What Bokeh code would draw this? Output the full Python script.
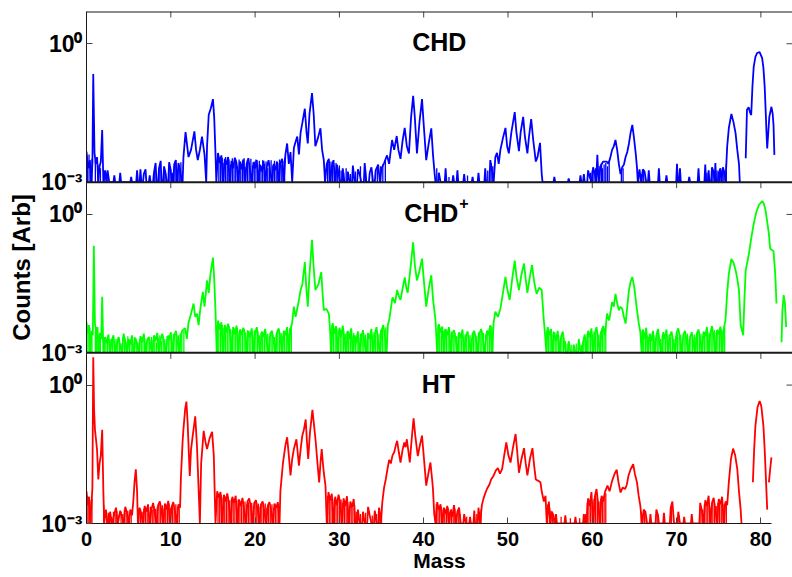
import math
import numpy as np
from bokeh.plotting import figure
from bokeh.models import (ColumnDataSource, FixedTicker, Label, Range1d, Span, LogScale,
                          CustomJSTickFormatter)
from bokeh.embed import file_html
from bokeh.resources import INLINE

NAN = float("nan")

# ---------------- data ----------------
panel_names = ["CHD", "CHD", "HT"]
panel_charges = ["", "+", ""]
panel_colors = ["#0000FF", "#00FF00", "#FF0000"]
mass_ticks = [0, 10, 20, 30, 40, 50, 60, 70, 80]
y_tick_values = [1e-3, 1.0]
y_tick_powers = ["-3", "0"]

# spectra: (mass, counts in units of 1e-3 arb.); values < 1 lie below the axis floor
chd_points = [
    (0.0, 4.6), (0.2, 2.0), (0.4, 3.0), (0.55, 0.3), (0.7, 2.5), (0.8, 220), (0.95, 4.3), (1.1, 2.5), (1.25, 3.5),
    (1.4, 0.3), (1.55, 2.2), (1.7, 2.8), (1.86, 13.5), (2.0, 0.3), (2.2, 1.8), (2.35, 0.3), (2.5, 1.8), (2.7, 0.3),
    (3.2, 0.3), (3.3, 1.4), (3.4, 0.3), (3.9, 0.3), (4.0, 1.6), (4.1, 0.3), (5.2, 0.3), (5.3, 1.3), (5.4, 0.3),
    (5.9, 0.3), (6.0, 1.8), (6.1, 0.3), (6.3, 0.3), (6.4, 1.9), (6.5, 0.3), (6.7, 0.3), (6.8, 1.5), (7.0, 1.9),
    (7.1, 0.3), (7.4, 0.3), (7.5, 1.4), (7.6, 0.3), (7.9, 0.3), (8.0, 1.6), (8.2, 2.6), (8.3, 0.3), (8.5, 0.3),
    (8.6, 2.0), (8.8, 2.9), (8.9, 0.3), (9.1, 0.3), (9.2, 2.2), (9.4, 1.5), (9.5, 0.3), (9.7, 0.3), (9.8, 2.7),
    (10.0, 1.8), (10.1, 0.3), (10.3, 0.3), (10.4, 2.4), (10.6, 3.0), (10.7, 0.3), (10.8, 0.3), (10.9, 2.6),
    (11.1, 1.9), (11.3, 0.3), (11.4, 0.3), (11.5, 3.5),
    (11.75, 12.2), (12.1, 3.5), (12.4, 5.0), (12.8, 12.6), (13.0, 5.0), (13.2, 3.0), (13.45, 5.0), (13.7, 9.7),
    (14.0, 4.0), (14.2, 0.3), (14.3, 6.0), (14.5, 29), (14.75, 40), (15.0, 63), (15.15, 25), (15.3, 4.3), (15.4, 0.3),
    (15.6, 4.3), (15.8, 2.6), (16.0, 3.8), (16.2, 0.3), (16.4, 3.2), (16.6, 2.4), (16.8, 3.5), (17.0, 0.3),
    (17.2, 2.9), (17.4, 2.0), (17.6, 3.4), (17.8, 2.6), (18.0, 0.3), (18.2, 2.8), (18.4, 1.9), (18.6, 3.1),
    (18.8, 0.3), (19.0, 2.5), (19.2, 3.3), (19.4, 1.8), (19.6, 0.3), (19.8, 2.7), (20.0, 2.0), (20.2, 3.0),
    (20.4, 0.3), (20.6, 2.4), (20.8, 1.7), (21.0, 2.9), (21.2, 0.3), (21.4, 2.2), (21.6, 3.0), (21.8, 1.6),
    (22.0, 0.3), (22.2, 2.5), (22.4, 1.8), (22.6, 2.8), (22.8, 0.3), (23.0, 2.6), (23.2, 3.2), (23.4, 0.3),
    (23.6, 4.0), (23.8, 6.9), (24.0, 2.5), (24.2, 4.5), (24.4, 0.3), (24.6, 5.5), (24.8, 7.5), (25.0, 9.7),
    (25.2, 4.0), (25.4, 12), (25.6, 19), (25.9, 39), (26.1, 12), (26.25, 6.9), (26.45, 30), (26.75, 85),
    (26.95, 30), (27.15, 6.0), (27.45, 9.0), (27.75, 14.7), (27.95, 5.0), (28.15, 3.0), (28.3, 0.3),
    (28.5, 2.5), (28.75, 3.2), (28.9, 0.3), (29.1, 2.2), (29.3, 3.0), (29.5, 0.3), (29.7, 2.4), (29.9, 1.5),
    (30.1, 0.3), (30.3, 0.3), (30.4, 2.0), (30.6, 0.3), (30.9, 0.3), (31.0, 1.7), (31.2, 0.3), (31.5, 0.3),
    (31.6, 2.3), (31.8, 0.3), (32.1, 0.3), (32.2, 1.9), (32.4, 1.5), (32.6, 0.3), (32.9, 0.3), (33.0, 2.6),
    (33.2, 0.3), (33.5, 0.3), (33.6, 1.6), (33.8, 2.1), (34.0, 0.3), (34.2, 0.3), (34.3, 1.8), (34.6, 2.4),
    (34.8, 0.3), (35.0, 2.0), (35.3, 2.6),
    (35.65, 3.8), (35.9, 2.5), (36.1, 5.0), (36.25, 8.2), (36.5, 5.0), (36.8, 10), (37.0, 5.0), (37.25, 3.2),
    (37.5, 8.0), (37.75, 15), (38.0, 6.0), (38.25, 4.2), (38.5, 25), (38.75, 74), (38.95, 25), (39.2, 4.2),
    (39.5, 20), (39.8, 63), (40.0, 18), (40.3, 3.0), (40.6, 7.0), (40.9, 14.7), (41.1, 4.0), (41.3, 1.5), (41.4, 0.3),
    (41.7, 0.3), (41.8, 1.6), (42.0, 0.3), (42.5, 0.3), (42.6, 2.0), (42.7, 0.3), (43.4, 0.3), (43.5, 1.4),
    (43.6, 0.3), (43.9, 0.3), (44.0, 1.8), (44.1, 0.3), (44.7, 0.3), (44.8, 1.5), (44.9, 0.3), (45.7, 0.3),
    (45.8, 1.3), (45.9, 0.3), (46.4, 0.3), (46.5, 1.6), (46.6, 0.3), (47.2, 0.3), (47.3, 2.0), (47.4, 0.3),
    (47.8, 0.3), (47.9, 3.0), (48.1, 1.8), (48.3, 0.3),
    (48.5, 3.5), (48.7, 4.3), (48.9, 2.5), (49.1, 5.0), (49.4, 9.0), (49.7, 15), (49.9, 6.0), (50.1, 4.2),
    (50.4, 12), (50.8, 33), (51.0, 12), (51.3, 4.7), (51.5, 12), (51.8, 26), (52.0, 10), (52.3, 4.2),
    (52.5, 10), (52.75, 23.4), (53.0, 8.0), (53.3, 2.8), (53.5, 3.5), (53.8, 7.1), (54.0, 1.5), (54.1, 0.3),
    (55.4, 0.3), (55.5, 1.3), (55.6, 0.3), (57.1, 0.3), (57.2, 1.2), (57.3, 0.3), (58.5, 0.3), (58.6, 1.4),
    (58.7, 0.3), (58.9, 0.3), (59.0, 1.5), (59.1, 0.3), (59.4, 0.3), (59.5, 1.8), (59.7, 1.3), (59.9, 0.3),
    (60.1, 2.1), (60.3, 1.5), (60.45, 0.3), (60.6, 3.9), (60.75, 0.3), (61.0, 2.3), (61.3, 2.8), (61.5, 2.8),
    (61.7, 2.8), (61.9, 2.5), (62.1, 3.2),
    (62.35, 5.0), (62.55, 6.0), (62.75, 8.2), (62.95, 5.0), (63.15, 2.5), (63.35, 1.5), (63.55, 2.1),
    (63.75, 2.4), (63.95, 3.5), (64.15, 4.5), (64.35, 6.9), (64.55, 12), (64.75, 17.4), (64.95, 9.0),
    (65.15, 4.2), (65.3, 2.1), (65.4, 0.3),
    (65.6, 1.9), (65.8, 0.3), (66.0, 1.9), (66.2, 1.7), (66.4, 0.3), (66.6, 0.3), (66.7, 1.8), (66.8, 0.3),
    (67.8, 0.3), (67.9, 2.0), (68.0, 0.3), (68.7, 0.3), (68.8, 1.4), (68.9, 0.3), (69.95, 0.3), (70.05, 2.5),
    (70.15, 0.3), (70.3, 0.3), (70.4, 2.0), (70.5, 0.3), (71.4, 0.3), (71.5, 1.3), (71.6, 0.3), (72.5, 0.3),
    (72.6, 2.0), (72.7, 0.3), (73.3, 0.3), (73.4, 2.4), (73.5, 0.3), (73.7, 0.3), (73.8, 1.8), (73.9, 0.3),
    (74.1, 0.3), (74.2, 2.1), (74.4, 1.6), (74.5, 0.3), (74.6, 2.6), (74.7, 0.3), (74.9, 0.3), (75.0, 1.6),
    (75.2, 2.0), (75.3, 0.3), (75.5, 2.1), (75.7, 1.5), (75.8, 0.3),
    (76.0, 5.9), (76.2, 15), (76.5, 30), (76.75, 20), (77.0, 11.4), (77.2, 5.0), (77.4, 2.5), (77.5, 0.3), (77.8, NAN),
    (78.2, 3.3), (78.35, 37), (78.55, 42), (78.7, 33), (78.85, 28.5), (79.0, 120), (79.15, 320), (79.35, 520),
    (79.55, 630), (79.85, 660), (80.15, 490), (80.3, 300), (80.45, 118), (80.6, 25), (80.65, 13.5), (80.75, 5.4),
    (81.0, 26), (81.25, 43), (81.4, 30), (81.5, 17), (81.6, 3.9),
]

# fine noise spikes between the sampled points (mass, counts in units of 1e-3)
chd_spikes = [
    (0.1, 3.6), (0.3, 4.0), (0.5, 2.2), (0.65, 3.2), (1.05, 3.0), (1.35, 2.4), (1.65, 2.0), (2.1, 1.6), (2.45, 1.4),
    (8.1, 2.0), (8.7, 2.4), (9.3, 1.8), (9.9, 2.2), (10.2, 1.6), (10.5, 2.8), (11.0, 2.3), (11.2, 2.7),
    (15.7, 3.6), (15.9, 3.0), (16.1, 3.4), (16.3, 2.6), (16.5, 3.5), (16.7, 2.8), (16.9, 3.1), (17.1, 2.4),
    (17.3, 3.3), (17.5, 2.7), (17.7, 3.0), (17.9, 2.2), (18.1, 3.1), (18.3, 2.5), (18.5, 2.9), (18.7, 3.3),
    (18.9, 2.1), (19.1, 3.0), (19.3, 2.6), (19.5, 3.2), (19.7, 2.3), (19.9, 2.8), (20.1, 3.1), (20.3, 2.4),
    (20.5, 2.9), (20.7, 2.2), (20.9, 3.0), (21.1, 2.5), (21.3, 2.8), (21.5, 2.0), (21.7, 2.6), (21.9, 3.0),
    (22.1, 2.3), (22.3, 2.9), (22.5, 2.1), (22.7, 2.6), (22.9, 3.1), (23.1, 2.4), (23.3, 2.9), (23.5, 3.4),
    (28.6, 3.0), (28.8, 2.4), (29.0, 2.8), (29.2, 2.5), (29.4, 2.1), (29.6, 2.6), (29.8, 2.0), (30.0, 2.3),
    (30.2, 1.8), (30.5, 1.6), (30.8, 2.0), (31.3, 1.5), (31.9, 1.7), (32.5, 2.2), (33.1, 1.8), (33.9, 1.6),
    (34.5, 2.0), (34.9, 2.2), (35.15, 2.4), (35.45, 3.0),
    (41.55, 2.0), (43.0, 1.3), (45.2, 1.4), (47.6, 1.8), (48.0, 2.6), (48.2, 2.2),
    (59.8, 1.6), (60.0, 1.8), (60.2, 1.7), (60.4, 2.0), (60.9, 2.2), (61.1, 2.6), (61.2, 2.0), (61.4, 2.4),
    (61.6, 2.6), (61.8, 2.2), (62.0, 2.9), (63.45, 1.8), (63.65, 2.0),
    (65.5, 1.6), (65.9, 1.5), (66.1, 1.8), (73.6, 1.6), (74.3, 1.9), (74.8, 1.8), (75.1, 1.9), (75.4, 1.7),
    (75.6, 1.8), (75.9, 2.5),
]

chd_ion_points = [
    (0.0, 4.7), (0.15, 2.6), (0.3, 4.0), (0.45, 0.3), (0.6, 3.0), (0.75, 2.4), (0.87, 210), (1.0, 4.3),
    (1.15, 2.8), (1.3, 3.6), (1.45, 0.3), (1.6, 2.7), (1.75, 2.0), (1.86, 16.5), (2.0, 0.3), (2.2, 2.2),
    (2.4, 1.6), (2.6, 2.5), (2.8, 0.3), (3.0, 1.9), (3.2, 2.4), (3.4, 0.3), (3.6, 1.6), (3.8, 2.2), (4.0, 1.4),
    (4.2, 0.3), (4.4, 2.6), (4.6, 1.8), (4.8, 0.3), (5.0, 2.0), (5.2, 1.5), (5.4, 2.4), (5.6, 0.3), (5.8, 2.1),
    (6.0, 1.6), (6.2, 0.3), (6.4, 2.3), (6.6, 1.7), (6.8, 2.6), (7.0, 0.3), (7.2, 1.9), (7.4, 2.2), (7.6, 1.4),
    (7.8, 0.3), (8.0, 2.4), (8.2, 1.8), (8.4, 2.7), (8.6, 0.3), (8.8, 2.0), (9.0, 2.6), (9.2, 1.6), (9.4, 0.3),
    (9.6, 2.3), (9.8, 1.9), (10.0, 2.8), (10.2, 0.3), (10.4, 2.2), (10.6, 3.0), (10.8, 1.8), (11.0, 0.3),
    (11.2, 2.5), (11.4, 3.1), (11.7, 3.4), (11.9, 2.0), (12.1, 4.5), (12.4, 7.0), (12.7, 11.7), (12.9, 6.0),
    (13.1, 7.1), (13.3, 4.0), (13.5, 9.0), (13.8, 21), (14.0, 10), (14.3, 37), (14.5, 20), (14.7, 50),
    (15.0, 116), (15.15, 40), (15.3, 8.4), (15.45, 0.3),
    (15.6, 5.0), (15.8, 3.2), (16.0, 4.6), (16.2, 0.3), (16.4, 4.0), (16.6, 2.8), (16.8, 4.3), (17.0, 3.0),
    (17.2, 0.3), (17.4, 3.6), (17.6, 2.5), (17.8, 3.9), (18.0, 0.3), (18.2, 3.2), (18.4, 2.4), (18.6, 3.5),
    (18.8, 2.6), (19.0, 0.3), (19.2, 3.0), (19.4, 2.2), (19.6, 3.4), (19.8, 0.3), (20.0, 2.7), (20.2, 3.6),
    (20.4, 2.0), (20.6, 0.3), (20.8, 2.9), (21.0, 2.2), (21.2, 3.3), (21.4, 1.6), (21.6, 0.3), (21.8, 2.6),
    (22.0, 3.0), (22.2, 1.8), (22.4, 0.3), (22.6, 2.8), (22.8, 3.4), (23.0, 2.1), (23.2, 0.3), (23.4, 3.0),
    (23.6, 2.4), (23.8, 3.6), (24.0, 0.3), (24.2, 3.2), (24.4, 4.5),
    (24.6, 10), (24.8, 6.0), (25.0, 9.0), (25.2, 14), (25.4, 23), (25.6, 30), (25.9, 93), (26.05, 30),
    (26.25, 10), (26.45, 50), (26.75, 280), (26.95, 70), (27.15, 23), (27.5, 30), (27.85, 56), (28.0, 20),
    (28.15, 8.4), (28.45, 9.0), (28.75, 7.1), (28.9, 3.0), (29.0, 0.3),
    (29.2, 4.4), (29.4, 2.6), (29.6, 3.8), (29.8, 0.3), (30.0, 3.5), (30.2, 2.2), (30.4, 3.9), (30.6, 1.8),
    (30.8, 0.3), (31.0, 3.0), (31.2, 2.0), (31.4, 3.4), (31.6, 0.3), (31.8, 2.4), (32.0, 1.6), (32.2, 2.9),
    (32.4, 0.3), (32.6, 2.2), (32.8, 3.1), (33.0, 1.5), (33.2, 0.3), (33.4, 2.7), (33.6, 2.0), (33.8, 3.3),
    (34.0, 0.3), (34.2, 2.5), (34.4, 3.6), (34.6, 1.8), (34.8, 0.3), (35.0, 3.0), (35.2, 4.0), (35.4, 2.4),
    (35.6, 0.3),
    (35.75, 4.0), (35.9, 5.1), (36.1, 9.0), (36.3, 16), (36.6, 12), (36.85, 23), (37.05, 17), (37.25, 14),
    (37.5, 25), (37.75, 43), (37.95, 25), (38.1, 20), (38.4, 60), (38.75, 250), (38.95, 80), (39.2, 37),
    (39.5, 60), (39.8, 110), (40.0, 40), (40.3, 10), (40.6, 25), (40.9, 48), (41.1, 15), (41.4, 5.1), (41.6, 0.3),
    (41.8, 4.2), (42.0, 2.8), (42.2, 3.7), (42.4, 0.3), (42.6, 3.3), (42.8, 2.4), (43.0, 3.6), (43.2, 0.3),
    (43.4, 2.6), (43.6, 3.1), (43.8, 1.9), (44.0, 0.3), (44.2, 2.8), (44.4, 2.1), (44.6, 3.2), (44.8, 0.3),
    (45.0, 2.3), (45.2, 2.9), (45.4, 1.7), (45.6, 0.3), (45.8, 2.6), (46.0, 3.0), (46.2, 2.0), (46.4, 0.3),
    (46.6, 2.5), (46.8, 3.3), (47.0, 2.2), (47.2, 0.3), (47.5, 3.0), (47.7, 2.4), (47.9, 4.0), (48.1, 0.3),
    (48.3, 4.5), (48.5, 7.8), (48.8, 6.0), (49.1, 9.0), (49.4, 20), (49.7, 44), (49.9, 25), (50.2, 14),
    (50.5, 40), (50.8, 100), (51.0, 45), (51.3, 23), (51.6, 50), (51.9, 86), (52.1, 40), (52.3, 20),
    (52.6, 45), (52.85, 80), (53.1, 35), (53.4, 19), (53.7, 26), (54.0, 23), (54.25, 5.1), (54.4, 2.4), (54.55, 0.3),
    (54.7, 3.6), (54.9, 2.4), (55.1, 3.3), (55.3, 0.3), (55.5, 2.8), (55.7, 1.8), (55.9, 3.0), (56.1, 0.3),
    (56.3, 2.2), (56.5, 2.9), (56.7, 1.5), (56.9, 0.3), (57.1, 0.3), (57.2, 1.8), (57.4, 0.3), (57.7, 0.3),
    (57.8, 1.5), (58.0, 0.3), (58.3, 0.3), (58.4, 2.0), (58.6, 0.3), (58.8, 0.3), (58.9, 1.7), (59.1, 2.5),
    (59.3, 0.3), (59.5, 3.0), (59.7, 2.2), (59.9, 3.4), (60.1, 0.3), (60.3, 2.6), (60.5, 3.6), (60.7, 2.0),
    (60.9, 0.3), (61.1, 3.0), (61.3, 3.8), (61.5, 2.4),
    (61.75, 7.1), (62.0, 5.0), (62.35, 12.6), (62.55, 10), (62.75, 19), (62.95, 12), (63.15, 8.4), (63.35, 10),
    (63.55, 9.0), (63.75, 6.0), (63.95, 4.3), (64.15, 10), (64.35, 23), (64.55, 35), (64.75, 44), (65.0, 25),
    (65.25, 10), (65.5, 4.5), (65.7, 2.8), (65.85, 0.3),
    (66.0, 3.2), (66.2, 2.0), (66.4, 3.5), (66.6, 0.3), (66.8, 2.6), (67.0, 1.8), (67.2, 3.0), (67.4, 0.3),
    (67.6, 2.4), (67.8, 3.3), (68.0, 1.6), (68.2, 0.3), (68.4, 2.8), (68.6, 2.0), (68.8, 3.2), (69.0, 0.3),
    (69.2, 2.3), (69.4, 2.9), (69.6, 1.7), (69.8, 0.3), (70.0, 2.7), (70.2, 3.4), (70.4, 2.1), (70.6, 0.3),
    (70.8, 2.5), (71.0, 3.0), (71.2, 1.8), (71.4, 0.3), (71.6, 2.2), (71.8, 2.8), (72.0, 1.6), (72.2, 0.3),
    (72.4, 2.6), (72.6, 3.2), (72.8, 2.0), (73.0, 0.3), (73.2, 2.9), (73.4, 2.3), (73.6, 3.6), (73.8, 0.3),
    (74.0, 2.7), (74.2, 3.8), (74.4, 2.2), (74.6, 0.3), (74.8, 3.1), (75.0, 2.5), (75.2, 3.7), (75.4, 0.3),
    (75.6, 3.4),
    (75.8, 5.1), (76.0, 20), (76.2, 52), (76.5, 108), (76.75, 90), (77.0, 62), (77.2, 40), (77.4, 23),
    (77.6, 4.0), (77.9, 2.4), (78.05, 15), (78.2, 62), (78.55, 130), (78.85, 300), (79.15, 630), (79.45, 1100),
    (79.75, 1580), (80.15, 1950), (80.35, 1700), (80.55, 1230), (80.75, 700), (80.95, 380), (81.1, 180),
    (81.3, 170), (81.5, 160), (81.6, 90), (81.7, 52), (81.85, 11.7), (82.1, NAN), (82.45, 1.7), (82.55, 8.0),
    (82.7, 17.8), (82.85, 12), (83.0, 3.6),
]

chd_ion_spikes = [
    (0.05, 4.0), (0.2, 3.2), (0.4, 3.5), (0.5, 2.0), (0.65, 2.6), (1.05, 3.0), (1.2, 3.3), (1.35, 2.5),
    (1.5, 2.2), (1.65, 2.4), (2.1, 2.0), (2.3, 1.7), (2.5, 2.2), (2.7, 1.8), (2.9, 2.0), (3.1, 2.2), (3.3, 1.7),
    (3.5, 2.0), (3.7, 1.8), (3.9, 2.1), (4.1, 1.6), (4.3, 2.2), (4.5, 2.0), (4.7, 1.7), (4.9, 2.3), (5.1, 1.8),
    (5.3, 2.0), (5.5, 1.6), (5.7, 2.2), (5.9, 1.9), (6.1, 1.7), (6.3, 2.0), (6.5, 2.2), (6.7, 1.8), (6.9, 2.1),
    (7.1, 1.7), (7.3, 2.0), (7.5, 1.8), (7.7, 2.2), (7.9, 1.9), (8.1, 2.3), (8.3, 1.7), (8.5, 2.1), (8.7, 2.4),
    (8.9, 1.8), (9.1, 2.2), (9.3, 2.0), (9.5, 1.7), (9.7, 2.4), (9.9, 2.1), (10.1, 2.0), (10.3, 2.6), (10.5, 2.3),
    (10.7, 2.0), (10.9, 2.4), (11.1, 2.6), (11.3, 2.8), (11.55, 3.0),
    (15.55, 4.0), (15.7, 4.4), (15.9, 3.6), (16.1, 4.0), (16.3, 3.5), (16.5, 3.9), (16.7, 3.2), (16.9, 3.7),
    (17.1, 3.3), (17.3, 3.0), (17.5, 3.4), (17.7, 3.1), (17.9, 3.5), (18.1, 2.9), (18.3, 3.2), (18.5, 2.8),
    (18.7, 3.3), (18.9, 2.7), (19.1, 3.1), (19.3, 2.6), (19.5, 3.0), (19.7, 2.5), (19.9, 3.1), (20.1, 2.8),
    (20.3, 3.0), (20.5, 2.4), (20.7, 2.7), (20.9, 2.5), (21.1, 2.9), (21.3, 2.3), (21.5, 2.6), (21.7, 2.2),
    (21.9, 2.7), (22.1, 2.4), (22.3, 2.2), (22.5, 2.6), (22.7, 2.9), (22.9, 2.5), (23.1, 2.7), (23.3, 2.3),
    (23.5, 2.8), (23.7, 3.0), (23.9, 2.6), (24.1, 3.4), (24.3, 3.8),
    (29.1, 4.0), (29.3, 3.6), (29.5, 3.2), (29.7, 3.4), (29.9, 3.0), (30.1, 3.3), (30.3, 2.8), (30.5, 3.1),
    (30.7, 2.6), (30.9, 2.9), (31.1, 2.5), (31.3, 2.8), (31.5, 2.3), (31.7, 2.7), (31.9, 2.2), (32.1, 2.5),
    (32.3, 2.1), (32.5, 2.6), (32.7, 2.4), (32.9, 2.2), (33.1, 2.5), (33.3, 2.0), (33.5, 2.4), (33.7, 2.6),
    (33.9, 2.3), (34.1, 2.8), (34.3, 2.5), (34.5, 3.0), (34.7, 2.6), (34.9, 3.2), (35.1, 3.5), (35.3, 3.0),
    (35.5, 3.6),
    (41.7, 4.0), (41.9, 3.4), (42.1, 3.2), (42.3, 3.0), (42.5, 3.2), (42.7, 2.8), (42.9, 3.0), (43.1, 2.6),
    (43.3, 2.9), (43.5, 2.5), (43.7, 2.7), (43.9, 2.3), (44.1, 2.6), (44.3, 2.4), (44.5, 2.7), (44.7, 2.2),
    (44.9, 2.5), (45.1, 2.6), (45.3, 2.2), (45.5, 2.4), (45.7, 2.1), (45.9, 2.7), (46.1, 2.5), (46.3, 2.3),
    (46.5, 2.8), (46.7, 2.6), (46.9, 3.0), (47.1, 2.7), (47.35, 2.5), (47.6, 3.1), (47.8, 3.5), (48.0, 3.8),
    (48.2, 3.6),
    (54.6, 3.0), (54.8, 3.2), (55.0, 2.8), (55.2, 2.6), (55.4, 2.9), (55.6, 2.2), (55.8, 2.5), (56.0, 2.4),
    (56.2, 2.0), (56.4, 2.5), (56.6, 2.1), (56.8, 1.8), (57.0, 1.6), (57.5, 1.5), (58.1, 1.6), (58.7, 1.5),
    (59.0, 2.0), (59.2, 2.2), (59.4, 2.6), (59.6, 2.4), (59.8, 2.8), (60.0, 2.5), (60.2, 2.9), (60.4, 3.1),
    (60.6, 2.7), (60.8, 2.5), (61.0, 2.9), (61.2, 3.3), (61.4, 3.0), (61.6, 4.0),
    (65.9, 3.0), (66.1, 2.6), (66.3, 2.8), (66.5, 2.4), (66.7, 2.2), (66.9, 2.5), (67.1, 2.0), (67.3, 2.4),
    (67.5, 2.1), (67.7, 2.6), (67.9, 2.2), (68.1, 2.0), (68.3, 2.4), (68.5, 2.2), (68.7, 2.6), (68.9, 2.0),
    (69.1, 2.5), (69.3, 2.2), (69.5, 2.4), (69.7, 2.0), (69.9, 2.3), (70.1, 2.6), (70.3, 2.2), (70.5, 2.5),
    (70.7, 2.1), (70.9, 2.4), (71.1, 2.2), (71.3, 2.6), (71.5, 2.0), (71.7, 2.4), (71.9, 2.1), (72.1, 2.5),
    (72.3, 2.2), (72.5, 2.7), (72.7, 2.4), (72.9, 2.6), (73.1, 2.3), (73.3, 2.8), (73.5, 2.5), (73.7, 2.9),
    (73.9, 2.6), (74.1, 3.0), (74.3, 2.7), (74.5, 3.1), (74.7, 2.8), (74.9, 3.2), (75.1, 2.9), (75.3, 3.3),
    (75.5, 3.0), (75.7, 3.8),
]

ht_points = [
    (0.0, 5.0), (0.15, 2.5), (0.3, 3.8), (0.45, 0.3), (0.6, 2.8), (0.7, 6.0), (0.8, 4000), (0.9, 300),
    (1.0, 110), (1.1, 74), (1.25, 40), (1.4, 9.0), (1.55, 20), (1.7, 30), (1.86, 107), (2.0, 5.0), (2.1, 0.3),
    (2.3, 2.0), (2.5, 0.3), (2.7, 0.3), (2.8, 1.8), (3.0, 0.3), (3.3, 1.6), (3.5, 2.2), (3.7, 0.3), (4.0, 1.9),
    (4.2, 1.4), (4.4, 0.3), (4.6, 2.3), (4.8, 1.7), (5.0, 0.3), (5.2, 2.0), (5.4, 1.5), (5.55, 3.0), (5.7, 8.0),
    (5.85, 15), (6.0, 5.0), (6.1, 0.3),
    (6.3, 2.2), (6.5, 1.6), (6.7, 0.3), (6.9, 2.4), (7.1, 1.8), (7.3, 2.6), (7.5, 0.3), (7.7, 2.0), (7.9, 2.8),
    (8.1, 1.6), (8.3, 0.3), (8.5, 2.5), (8.7, 3.0), (8.9, 1.9), (9.1, 0.3), (9.3, 2.7), (9.5, 2.0), (9.7, 3.1),
    (9.9, 0.3), (10.1, 2.3), (10.3, 2.9), (10.5, 1.8), (10.7, 0.3), (10.9, 2.6), (11.1, 2.2),
    (11.2, 10), (11.4, 60), (11.5, 110), (11.7, 300), (11.85, 440), (12.0, 150), (12.15, 30), (12.25, 10.7),
    (12.4, 40), (12.6, 80), (12.9, 210), (13.1, 50), (13.3, 5.5), (13.45, 0.3), (13.6, 20), (13.9, 102),
    (14.1, 60), (14.3, 41), (14.6, 70), (14.9, 97), (15.1, 30), (15.3, 0.3),
    (15.5, 5.0), (15.7, 3.6), (15.9, 4.8), (16.1, 0.3), (16.3, 4.2), (16.5, 3.0), (16.7, 4.5), (16.9, 2.6),
    (17.1, 0.3), (17.3, 3.8), (17.5, 2.8), (17.7, 4.0), (17.9, 0.3), (18.1, 3.3), (18.3, 2.4), (18.5, 3.6),
    (18.7, 2.0), (18.9, 0.3), (19.1, 3.0), (19.3, 3.5), (19.5, 2.2), (19.7, 0.3), (19.9, 2.8), (20.1, 3.2),
    (20.3, 2.0), (20.5, 0.3), (20.7, 2.6), (20.9, 3.0), (21.1, 1.8), (21.3, 0.3), (21.5, 2.4), (21.7, 2.9),
    (21.9, 2.0), (22.1, 0.3), (22.3, 2.7), (22.5, 2.2), (22.7, 2.9), (22.9, 0.3),
    (23.0, 5.0), (23.3, 20), (23.6, 50), (23.8, 74), (24.0, 30), (24.2, 11), (24.4, 25), (24.6, 41),
    (24.9, 67), (25.05, 35), (25.2, 18), (25.4, 40), (25.6, 80), (25.8, 110), (26.0, 180), (26.15, 60),
    (26.3, 25), (26.5, 90), (26.8, 290), (27.0, 130), (27.2, 57), (27.4, 20), (27.6, 7.8), (27.75, 20),
    (27.9, 41), (28.0, 25), (28.15, 12.6), (28.35, 6.6), (28.5, 0.3),
    (28.7, 4.8), (28.9, 3.2), (29.1, 4.4), (29.3, 0.3), (29.5, 3.8), (29.7, 2.5), (29.9, 4.2), (30.1, 2.8),
    (30.3, 0.3), (30.5, 3.5), (30.7, 2.4), (30.9, 3.9), (31.1, 0.3), (31.3, 3.0), (31.5, 2.2), (31.7, 3.4),
    (31.9, 0.3), (32.1, 0.3), (32.2, 2.0), (32.4, 0.3), (32.7, 0.3), (32.8, 1.8), (33.0, 0.3), (33.3, 0.3),
    (33.4, 2.3), (33.6, 1.5), (33.8, 0.3), (34.1, 0.3), (34.2, 1.9), (34.4, 0.3), (34.6, 0.3), (34.7, 2.2),
    (34.9, 0.3),
    (35.1, 3.0), (35.3, 6.0), (35.5, 9.0), (35.7, 15), (35.9, 24), (36.1, 20), (36.3, 30), (36.5, 35),
    (36.7, 50), (36.85, 62), (37.05, 35), (37.25, 21), (37.5, 40), (37.7, 57), (37.85, 45), (38.0, 67),
    (38.2, 35), (38.35, 21), (38.55, 60), (38.8, 190), (39.0, 80), (39.3, 29), (39.55, 50), (39.8, 80),
    (40.0, 30), (40.3, 6.6), (40.55, 12), (40.8, 21), (41.0, 9.0), (41.1, 5.6), (41.25, 1.6), (41.4, 0.3),
    (41.6, 2.9), (41.8, 2.0), (42.0, 2.6), (42.2, 0.3), (42.4, 2.2), (42.6, 1.6), (42.8, 2.4), (43.0, 0.3),
    (43.2, 2.0), (43.4, 1.4), (43.6, 2.5), (43.8, 0.3), (44.0, 1.8), (44.2, 2.2), (44.4, 0.3), (44.7, 0.3),
    (44.8, 1.6), (45.0, 0.3), (45.4, 0.3), (45.5, 1.4), (45.6, 0.3), (45.9, 0.3), (46.0, 1.9), (46.1, 0.3),
    (46.4, 0.3), (46.5, 2.2), (46.7, 0.3),
    (46.9, 2.5), (47.1, 3.5), (47.3, 4.5), (47.5, 5.6), (47.8, 7.0), (48.0, 9.0), (48.3, 11), (48.55, 14),
    (48.8, 16), (49.05, 12), (49.3, 15), (49.55, 30), (49.8, 57), (50.05, 30), (50.3, 21), (50.6, 45),
    (50.9, 87), (51.1, 35), (51.3, 12.6), (51.6, 25), (51.9, 43), (52.1, 20), (52.3, 11), (52.6, 25),
    (52.9, 43), (53.1, 18), (53.3, 9.0), (53.6, 8.4), (53.85, 7.8), (54.0, 5.0), (54.25, 3.0), (54.45, 4.0),
    (54.6, 0.3), (54.85, 3.0), (55.0, 0.3),
    (55.2, 1.8), (55.4, 1.5), (55.5, 0.3), (55.6, 0.3), (55.7, 1.6), (55.8, 0.3), (56.7, 0.3), (56.8, 1.5),
    (56.9, 0.3), (57.9, 0.3), (58.0, 1.4), (58.1, 0.3), (58.9, 0.3), (59.0, 1.6), (59.1, 0.3), (59.3, 0.3),
    (59.5, 3.5), (59.7, 2.4), (59.9, 4.8), (60.1, 0.3), (60.3, 3.8), (60.5, 5.6), (60.7, 2.6), (60.9, 0.3),
    (61.1, 4.0), (61.3, 3.0), (61.5, 4.8), (61.8, 6.6), (62.05, 5.0), (62.35, 8.4), (62.65, 12), (62.9, 14.6),
    (63.1, 8.0), (63.35, 4.7), (63.6, 6.0), (63.9, 5.6), (64.1, 7.0), (64.3, 11), (64.55, 15), (64.85, 19.4),
    (65.05, 12), (65.3, 7.8), (65.5, 4.0), (65.7, 2.4), (65.9, 0.3),
    (66.1, 2.0), (66.3, 1.8), (66.5, 0.3), (66.8, 0.3), (66.9, 1.6), (67.0, 0.3), (67.5, 0.3), (67.6, 2.0),
    (67.8, 1.5), (67.9, 0.3), (68.4, 0.3), (68.5, 1.7), (68.6, 0.3), (69.2, 0.3), (69.3, 2.2), (69.5, 3.0),
    (69.7, 0.3), (70.1, 0.3), (70.2, 1.8), (70.4, 0.3), (70.8, 0.3), (70.9, 1.4), (71.0, 0.3), (71.7, 0.3),
    (71.8, 1.6), (71.9, 0.3), (72.7, 0.3), (72.8, 2.8), (73.0, 1.9), (73.2, 0.3), (73.4, 3.2), (73.6, 2.4),
    (73.8, 4.0), (74.0, 0.3), (74.2, 2.8), (74.4, 3.6), (74.6, 2.0), (74.8, 0.3), (75.0, 3.4), (75.2, 2.6),
    (75.4, 3.8), (75.6, 0.3), (75.8, 3.0), (76.0, 2.5),
    (76.2, 8.0), (76.45, 25), (76.7, 42), (76.95, 30), (77.2, 15), (77.4, 5.0), (77.6, 2.0), (77.7, 0.3), (78.0, NAN),
    (79.05, 7.8), (79.2, 40), (79.35, 130), (79.6, 330), (79.85, 450), (80.05, 350), (80.3, 130), (80.45, 40),
    (80.55, 15), (80.75, 2.0), (80.85, NAN), (80.95, 7.8), (81.1, 15), (81.25, 27),
]

ht_spikes = [
    (0.05, 4.0), (0.2, 3.0), (0.4, 3.2), (0.5, 2.2), (0.65, 3.5), (2.05, 2.5),
    (2.4, 1.5), (2.6, 1.7), (2.9, 1.4), (3.2, 1.8), (3.4, 1.6), (3.6, 1.9), (3.8, 1.5), (4.1, 1.8), (4.3, 1.6),
    (4.5, 2.0), (4.7, 1.7), (4.9, 1.9), (5.1, 1.6), (5.3, 1.8), (6.2, 1.7), (6.4, 2.0), (6.6, 1.8), (6.8, 2.1),
    (7.0, 1.9), (7.2, 2.2), (7.4, 1.8), (7.6, 2.3), (7.8, 2.0), (8.0, 2.4), (8.2, 2.1), (8.4, 2.3), (8.6, 2.6),
    (8.8, 2.2), (9.0, 2.5), (9.2, 2.1), (9.4, 2.6), (9.6, 2.3), (9.8, 2.7), (10.0, 2.2), (10.2, 2.5), (10.4, 2.2),
    (10.6, 2.6), (10.8, 2.3), (11.0, 2.4),
    (15.6, 4.4), (15.8, 4.0), (16.0, 4.2), (16.2, 3.6), (16.4, 3.9), (16.6, 3.4), (16.8, 3.8), (17.0, 3.2),
    (17.2, 3.5), (17.4, 3.0), (17.6, 3.4), (17.8, 3.1), (18.0, 3.3), (18.2, 2.8), (18.4, 3.2), (18.6, 2.7),
    (18.8, 3.0), (19.0, 2.6), (19.2, 2.9), (19.4, 2.5), (19.6, 2.8), (19.8, 2.4), (20.0, 2.9), (20.2, 2.5),
    (20.4, 2.7), (20.6, 2.3), (20.8, 2.6), (21.0, 2.4), (21.2, 2.7), (21.4, 2.2), (21.6, 2.5), (21.8, 2.3),
    (22.0, 2.6), (22.2, 2.2), (22.4, 2.5), (22.6, 2.3), (22.8, 2.6),
    (28.6, 4.0), (28.8, 3.6), (29.0, 3.8), (29.2, 3.2), (29.4, 3.5), (29.6, 3.0), (29.8, 3.4), (30.0, 3.1),
    (30.2, 3.3), (30.4, 2.8), (30.6, 3.0), (30.8, 2.6), (31.0, 2.9), (31.2, 2.4), (31.4, 2.7), (31.6, 2.2),
    (31.8, 2.5), (32.0, 1.8), (32.5, 1.6), (33.1, 1.7), (33.9, 1.5), (34.4, 1.6), (34.8, 1.8), (35.0, 2.2),
    (41.5, 2.6), (41.7, 2.4), (41.9, 2.2), (42.1, 2.3), (42.3, 2.0), (42.5, 2.1), (42.7, 1.9), (42.9, 2.2),
    (43.1, 1.8), (43.3, 2.0), (43.5, 1.7), (43.7, 2.1), (43.9, 1.6), (44.1, 1.9), (44.3, 1.6), (45.1, 1.4),
    (46.3, 1.6), (46.6, 1.8), (46.8, 2.0),
    (54.7, 2.6), (54.95, 2.2), (55.1, 1.9), (55.3, 1.6), (56.3, 1.4), (57.4, 1.3), (58.5, 1.3), (59.2, 1.6),
    (59.4, 2.8), (59.6, 3.2), (59.8, 3.6), (60.0, 3.0), (60.2, 3.4), (60.4, 4.2), (60.6, 3.6), (60.8, 3.0),
    (61.0, 3.5), (61.2, 3.8), (61.4, 4.0), (61.6, 4.5),
    (65.8, 1.8), (66.0, 1.6), (66.2, 1.9), (66.4, 1.4), (67.7, 1.6), (69.4, 2.4), (70.3, 1.5), (72.9, 2.2),
    (73.1, 2.0), (73.3, 2.6), (73.5, 2.8), (73.7, 3.0), (73.9, 2.4), (74.1, 2.2), (74.3, 3.0), (74.5, 2.6),
    (74.7, 2.4), (74.9, 2.8), (75.1, 3.0), (75.3, 3.2), (75.5, 2.6), (75.7, 2.7), (75.9, 2.8),
]

chd_mass, chd_counts = [list(v) for v in zip(*chd_points)]
chd_ion_mass, chd_ion_counts = [list(v) for v in zip(*chd_ion_points)]
ht_mass, ht_counts = [list(v) for v in zip(*ht_points)]
chd_spike_mass, chd_spike_counts = [list(v) for v in zip(*chd_spikes)]
chd_ion_spike_mass, chd_ion_spike_counts = [list(v) for v in zip(*chd_ion_spikes)]
ht_spike_mass, ht_spike_counts = [list(v) for v in zip(*ht_spikes)]

# ---------------- layout constants ----------------
FONT = "Liberation Sans"
AXIS_COLOR = "#1a1a1a"
TICK_COLOR = "#444444"
Y_LO, Y_HI = 1e-3, 5.0            # each panel's own log range
R = Y_HI / Y_LO                   # ratio spanned by one panel
X_LO, X_HI = 0.0, 83.75

# three stacked panels sharing one frame; panel k (0 = bottom) gets its own log scale
panel_keys = ["top", "mid", "bot"]
panel_level = {"top": 2, "mid": 1, "bot": 0}

p = figure(width=792, height=577, x_range=Range1d(X_LO, X_HI),
           y_range=Range1d(Y_LO, Y_HI * R ** 2), y_axis_type="log",
           output_backend="svg", toolbar_location=None,
           min_border_left=86, min_border_right=0, min_border_top=11, min_border_bottom=54)
p.outline_line_color = None
p.xgrid.visible = False
p.ygrid.visible = False
p.background_fill_color = "white"
p.border_fill_color = "white"

p.extra_y_ranges = {k: Range1d(Y_LO / R ** panel_level[k], Y_HI * R ** (2 - panel_level[k]))
                    for k in panel_keys}
p.extra_y_scales = {k: LogScale() for k in panel_keys}


def floor_clip(counts):
    y = np.array(counts, dtype=float) * 1e-3
    return np.where(y < Y_LO, Y_LO, y)   # values below the floor sit on the panel's bottom edge


series = [(chd_mass, chd_counts), (chd_ion_mass, chd_ion_counts), (ht_mass, ht_counts)]
spikes = [(chd_spike_mass, chd_spike_counts), (chd_ion_spike_mass, chd_ion_spike_counts),
          (ht_spike_mass, ht_spike_counts)]
for key, (mass, counts), (smass, scounts), color in zip(panel_keys, series, spikes, panel_colors):
    ssrc = ColumnDataSource(dict(x=smass, y=floor_clip(scounts), base=[Y_LO] * len(smass)))
    p.segment(x0="x", y0="base", x1="x", y1="y", source=ssrc, line_color=color,
              line_width=1.3, y_range_name=key)
    src = ColumnDataSource(dict(x=mass, y=floor_clip(counts)))
    p.line("x", "y", source=src, line_color=color, line_width=1.8, y_range_name=key)

# panel frames: top edge line, inward ticks on top edge and at 10^0 on the right
for key in panel_keys:
    p.add_layout(Span(location=Y_HI, dimension="width", line_color=AXIS_COLOR,
                      line_width=2, y_range_name=key))
    p.ray(x=mass_ticks, y=[Y_HI] * len(mass_ticks), length=6, length_units="screen",
          angle=-math.pi / 2, line_color=TICK_COLOR, line_width=1, y_range_name=key)
    p.ray(x=[X_HI], y=[y_tick_values[1]], length=6, length_units="screen",
          angle=math.pi, line_color=TICK_COLOR, line_width=1, y_range_name=key)

# left axis: ticks at 10^-3 and 10^0 of every panel (expressed on the bottom panel's scale)
SUP = {"-": "\u207b", "0": "\u2070", "3": "\u00b3"}
tick_text = ["10" + "".join(SUP[c] for c in pw) for pw in y_tick_powers]
left_ticks = [v * R ** k for k in range(3) for v in y_tick_values]
ya = p.yaxis[0]
ya.ticker = FixedTicker(ticks=left_ticks)
ya.formatter = CustomJSTickFormatter(args=dict(lo=Y_LO, R=R, low_text=tick_text[0], high_text=tick_text[1]),
                                     code="""
const k = Math.log(tick / lo) / Math.log(R);
return Math.abs(k - Math.round(k)) < 1e-3 ? low_text : high_text;
""")
ya.major_tick_in = 6
ya.major_tick_out = 0
ya.minor_tick_line_color = None
ya.major_label_standoff = 4
ya.major_label_text_font = FONT
ya.major_label_text_font_size = "23px"
ya.major_label_text_font_style = "bold"
ya.major_label_text_color = "black"
ya.axis_line_color = AXIS_COLOR
ya.major_tick_line_color = TICK_COLOR
ya.axis_label = "Counts [Arb]"
ya.axis_label_text_font = FONT
ya.axis_label_text_font_size = "24px"
ya.axis_label_text_font_style = "bold"
ya.axis_label_text_color = "black"
ya.axis_label_standoff = 3

# bottom axis
xa = p.xaxis[0]
xa.ticker = FixedTicker(ticks=mass_ticks)
xa.bounds = (0, 81.3)
xa.major_tick_in = 6
xa.major_tick_out = 0
xa.minor_tick_line_color = None
xa.major_label_text_font_size = "20px"
xa.major_label_text_font = FONT
xa.major_label_text_font_style = "bold"
xa.major_label_text_color = "black"
xa.major_label_standoff = 8
xa.axis_line_color = AXIS_COLOR
xa.major_tick_line_color = TICK_COLOR
xa.axis_label = "Mass"
xa.axis_label_text_font = FONT
xa.axis_label_text_font_size = "21px"
xa.axis_label_text_font_style = "bold"
xa.axis_label_text_color = "black"
xa.axis_label_standoff = 0


def add_text(x, y, text, size, key, dx=0.0, dy=0.0, align="center"):
    p.add_layout(Label(x=x, y=y, x_offset=dx, y_offset=dy, text=text, text_font=FONT,
                       text_font_size=size, text_font_style="bold", text_color="black",
                       text_align=align, text_baseline="middle", y_range_name=key))


# panel titles
add_text(41.85, 1.0, panel_names[0], "25px", "top", dy=2)
add_text(40.9, 1.0, panel_names[1], "25px", "mid", dy=1)
add_text(40.9, 1.0, panel_charges[1], "16px", "mid", dx=28, dy=11, align="left")
add_text(41.75, 1.0, panel_names[2], "25px", "bot", dy=1.5)

open("out.html", "w", encoding="utf-8").write(file_html(p, INLINE))
